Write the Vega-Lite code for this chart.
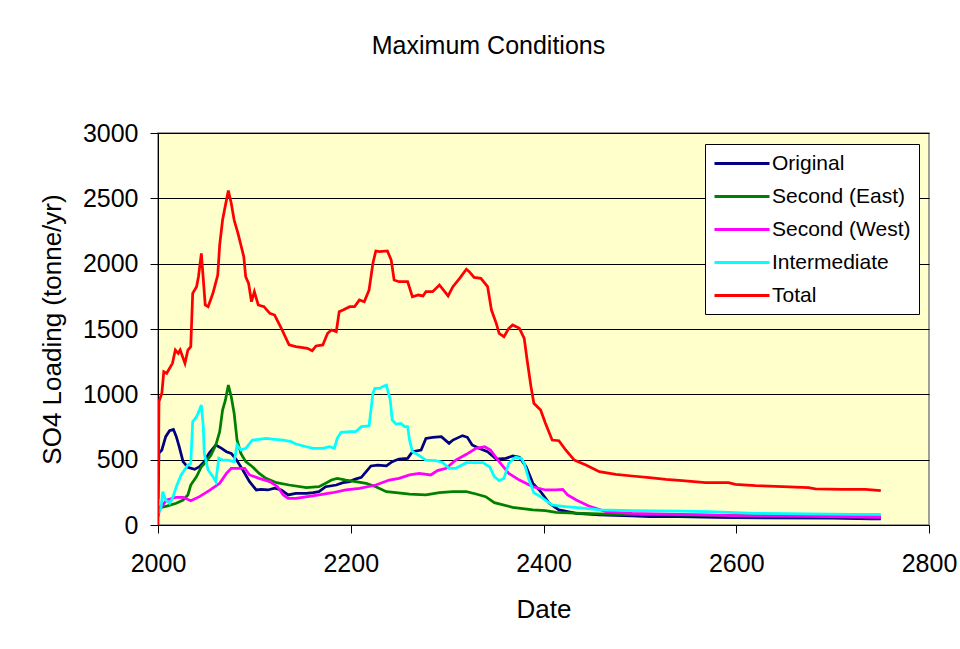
{
  "$schema": "https://vega.github.io/schema/vega-lite/v6.json",
  "autosize": {"type": "none"},
  "width": 771,
  "height": 392,
  "padding": {"left": 158, "top": 133, "right": 31, "bottom": 124},
  "background": "white",
  "title": {
    "text": "Maximum Conditions",
    "frame": "group",
    "anchor": "middle",
    "dx": -55,
    "offset": 62,
    "font": "Liberation Sans",
    "fontSize": 25,
    "fontWeight": "normal",
    "color": "black"
  },
  "data": {
    "values": [
      {"series": "Original", "year": 2000, "load": 200},
      {"series": "Original", "year": 2001, "load": 550},
      {"series": "Original", "year": 2004, "load": 574},
      {"series": "Original", "year": 2008, "load": 676},
      {"series": "Original", "year": 2012, "load": 722},
      {"series": "Original", "year": 2016, "load": 732},
      {"series": "Original", "year": 2019, "load": 676},
      {"series": "Original", "year": 2022, "load": 599},
      {"series": "Original", "year": 2026, "load": 485},
      {"series": "Original", "year": 2031, "load": 441},
      {"series": "Original", "year": 2038, "load": 426},
      {"series": "Original", "year": 2043, "load": 446},
      {"series": "Original", "year": 2048, "load": 485},
      {"series": "Original", "year": 2053, "load": 548},
      {"series": "Original", "year": 2060, "load": 612},
      {"series": "Original", "year": 2066, "load": 587},
      {"series": "Original", "year": 2071, "load": 561},
      {"series": "Original", "year": 2076, "load": 548},
      {"series": "Original", "year": 2081, "load": 503},
      {"series": "Original", "year": 2088, "load": 421},
      {"series": "Original", "year": 2095, "load": 332},
      {"series": "Original", "year": 2102, "load": 268},
      {"series": "Original", "year": 2107, "load": 273},
      {"series": "Original", "year": 2114, "load": 268},
      {"series": "Original", "year": 2121, "load": 281},
      {"series": "Original", "year": 2128, "load": 268},
      {"series": "Original", "year": 2135, "load": 230},
      {"series": "Original", "year": 2143, "load": 242},
      {"series": "Original", "year": 2154, "load": 242},
      {"series": "Original", "year": 2161, "load": 247},
      {"series": "Original", "year": 2167, "load": 255},
      {"series": "Original", "year": 2174, "load": 293},
      {"series": "Original", "year": 2185, "load": 306},
      {"series": "Original", "year": 2192, "load": 324},
      {"series": "Original", "year": 2199, "load": 332},
      {"series": "Original", "year": 2204, "load": 349},
      {"series": "Original", "year": 2211, "load": 365},
      {"series": "Original", "year": 2216, "load": 408},
      {"series": "Original", "year": 2221, "load": 452},
      {"series": "Original", "year": 2228, "load": 459},
      {"series": "Original", "year": 2237, "load": 452},
      {"series": "Original", "year": 2243, "load": 485},
      {"series": "Original", "year": 2250, "load": 505},
      {"series": "Original", "year": 2259, "load": 510},
      {"series": "Original", "year": 2264, "load": 561},
      {"series": "Original", "year": 2273, "load": 574},
      {"series": "Original", "year": 2278, "load": 663},
      {"series": "Original", "year": 2285, "load": 671},
      {"series": "Original", "year": 2294, "load": 676},
      {"series": "Original", "year": 2302, "load": 625},
      {"series": "Original", "year": 2306, "load": 650},
      {"series": "Original", "year": 2316, "load": 684},
      {"series": "Original", "year": 2321, "load": 671},
      {"series": "Original", "year": 2326, "load": 612},
      {"series": "Original", "year": 2333, "load": 587},
      {"series": "Original", "year": 2342, "load": 561},
      {"series": "Original", "year": 2351, "load": 505},
      {"series": "Original", "year": 2361, "load": 510},
      {"series": "Original", "year": 2368, "load": 528},
      {"series": "Original", "year": 2375, "load": 518},
      {"series": "Original", "year": 2382, "load": 446},
      {"series": "Original", "year": 2389, "load": 319},
      {"series": "Original", "year": 2397, "load": 255},
      {"series": "Original", "year": 2406, "load": 166},
      {"series": "Original", "year": 2416, "load": 115},
      {"series": "Original", "year": 2434, "load": 89},
      {"series": "Original", "year": 2458, "load": 77},
      {"series": "Original", "year": 2492, "load": 69},
      {"series": "Original", "year": 2510, "load": 64},
      {"series": "Original", "year": 2541, "load": 64},
      {"series": "Original", "year": 2580, "load": 59},
      {"series": "Original", "year": 2600, "load": 56},
      {"series": "Original", "year": 2700, "load": 52},
      {"series": "Original", "year": 2740, "load": 46},
      {"series": "Original", "year": 2750, "load": 46},

      {"series": "Second (East)", "year": 2000, "load": 128},
      {"series": "Second (East)", "year": 2009, "load": 145},
      {"series": "Second (East)", "year": 2019, "load": 166},
      {"series": "Second (East)", "year": 2026, "load": 191},
      {"series": "Second (East)", "year": 2031, "load": 230},
      {"series": "Second (East)", "year": 2034, "load": 306},
      {"series": "Second (East)", "year": 2040, "load": 370},
      {"series": "Second (East)", "year": 2045, "load": 446},
      {"series": "Second (East)", "year": 2050, "load": 485},
      {"series": "Second (East)", "year": 2055, "load": 536},
      {"series": "Second (East)", "year": 2060, "load": 612},
      {"series": "Second (East)", "year": 2064, "load": 714},
      {"series": "Second (East)", "year": 2067, "load": 880},
      {"series": "Second (East)", "year": 2070, "load": 957},
      {"series": "Second (East)", "year": 2073, "load": 1071},
      {"series": "Second (East)", "year": 2076, "load": 982},
      {"series": "Second (East)", "year": 2079, "load": 855},
      {"series": "Second (East)", "year": 2082, "load": 651},
      {"series": "Second (East)", "year": 2086, "load": 548},
      {"series": "Second (East)", "year": 2091, "load": 485},
      {"series": "Second (East)", "year": 2098, "load": 446},
      {"series": "Second (East)", "year": 2105, "load": 395},
      {"series": "Second (East)", "year": 2112, "load": 357},
      {"series": "Second (East)", "year": 2123, "load": 324},
      {"series": "Second (East)", "year": 2136, "load": 306},
      {"series": "Second (East)", "year": 2154, "load": 286},
      {"series": "Second (East)", "year": 2167, "load": 293},
      {"series": "Second (East)", "year": 2174, "load": 319},
      {"series": "Second (East)", "year": 2180, "load": 344},
      {"series": "Second (East)", "year": 2186, "load": 357},
      {"series": "Second (East)", "year": 2195, "load": 344},
      {"series": "Second (East)", "year": 2205, "load": 332},
      {"series": "Second (East)", "year": 2216, "load": 319},
      {"series": "Second (East)", "year": 2226, "load": 293},
      {"series": "Second (East)", "year": 2237, "load": 255},
      {"series": "Second (East)", "year": 2247, "load": 247},
      {"series": "Second (East)", "year": 2261, "load": 237},
      {"series": "Second (East)", "year": 2278, "load": 230},
      {"series": "Second (East)", "year": 2292, "load": 247},
      {"series": "Second (East)", "year": 2306, "load": 255},
      {"series": "Second (East)", "year": 2320, "load": 255},
      {"series": "Second (East)", "year": 2330, "load": 237},
      {"series": "Second (East)", "year": 2340, "load": 217},
      {"series": "Second (East)", "year": 2349, "load": 171},
      {"series": "Second (East)", "year": 2368, "load": 135},
      {"series": "Second (East)", "year": 2389, "load": 115},
      {"series": "Second (East)", "year": 2402, "load": 110},
      {"series": "Second (East)", "year": 2413, "load": 97},
      {"series": "Second (East)", "year": 2440, "load": 89},
      {"series": "Second (East)", "year": 2475, "load": 82},
      {"series": "Second (East)", "year": 2541, "load": 77},
      {"series": "Second (East)", "year": 2600, "load": 72},
      {"series": "Second (East)", "year": 2680, "load": 69},
      {"series": "Second (East)", "year": 2750, "load": 64},

      {"series": "Second (West)", "year": 2000, "load": 64},
      {"series": "Second (West)", "year": 2002, "load": 128},
      {"series": "Second (West)", "year": 2009, "load": 191},
      {"series": "Second (West)", "year": 2019, "load": 212},
      {"series": "Second (West)", "year": 2026, "load": 212},
      {"series": "Second (West)", "year": 2034, "load": 186},
      {"series": "Second (West)", "year": 2043, "load": 217},
      {"series": "Second (West)", "year": 2053, "load": 263},
      {"series": "Second (West)", "year": 2064, "load": 319},
      {"series": "Second (West)", "year": 2071, "load": 395},
      {"series": "Second (West)", "year": 2076, "load": 434},
      {"series": "Second (West)", "year": 2090, "load": 434},
      {"series": "Second (West)", "year": 2095, "load": 383},
      {"series": "Second (West)", "year": 2105, "load": 357},
      {"series": "Second (West)", "year": 2116, "load": 332},
      {"series": "Second (West)", "year": 2124, "load": 293},
      {"series": "Second (West)", "year": 2130, "load": 230},
      {"series": "Second (West)", "year": 2135, "load": 204},
      {"series": "Second (West)", "year": 2143, "load": 204},
      {"series": "Second (West)", "year": 2155, "load": 217},
      {"series": "Second (West)", "year": 2167, "load": 230},
      {"series": "Second (West)", "year": 2181, "load": 247},
      {"series": "Second (West)", "year": 2195, "load": 268},
      {"series": "Second (West)", "year": 2209, "load": 281},
      {"series": "Second (West)", "year": 2226, "load": 306},
      {"series": "Second (West)", "year": 2240, "load": 344},
      {"series": "Second (West)", "year": 2250, "load": 357},
      {"series": "Second (West)", "year": 2261, "load": 383},
      {"series": "Second (West)", "year": 2271, "load": 395},
      {"series": "Second (West)", "year": 2283, "load": 383},
      {"series": "Second (West)", "year": 2290, "load": 416},
      {"series": "Second (West)", "year": 2299, "load": 434},
      {"series": "Second (West)", "year": 2309, "load": 497},
      {"series": "Second (West)", "year": 2320, "load": 541},
      {"series": "Second (West)", "year": 2330, "load": 587},
      {"series": "Second (West)", "year": 2339, "load": 599},
      {"series": "Second (West)", "year": 2345, "load": 574},
      {"series": "Second (West)", "year": 2354, "load": 485},
      {"series": "Second (West)", "year": 2364, "load": 395},
      {"series": "Second (West)", "year": 2375, "load": 344},
      {"series": "Second (West)", "year": 2389, "load": 293},
      {"series": "Second (West)", "year": 2402, "load": 268},
      {"series": "Second (West)", "year": 2413, "load": 268},
      {"series": "Second (West)", "year": 2420, "load": 273},
      {"series": "Second (West)", "year": 2425, "load": 230},
      {"series": "Second (West)", "year": 2434, "load": 191},
      {"series": "Second (West)", "year": 2447, "load": 145},
      {"series": "Second (West)", "year": 2465, "load": 102},
      {"series": "Second (West)", "year": 2492, "load": 89},
      {"series": "Second (West)", "year": 2541, "load": 82},
      {"series": "Second (West)", "year": 2600, "load": 72},
      {"series": "Second (West)", "year": 2680, "load": 66},
      {"series": "Second (West)", "year": 2750, "load": 59},

      {"series": "Intermediate", "year": 2000, "load": 89},
      {"series": "Intermediate", "year": 2003, "load": 128},
      {"series": "Intermediate", "year": 2005, "load": 255},
      {"series": "Intermediate", "year": 2008, "load": 191},
      {"series": "Intermediate", "year": 2012, "load": 166},
      {"series": "Intermediate", "year": 2015, "load": 204},
      {"series": "Intermediate", "year": 2019, "load": 293},
      {"series": "Intermediate", "year": 2024, "load": 383},
      {"series": "Intermediate", "year": 2031, "load": 459},
      {"series": "Intermediate", "year": 2034, "load": 472},
      {"series": "Intermediate", "year": 2036, "load": 791},
      {"series": "Intermediate", "year": 2040, "load": 829},
      {"series": "Intermediate", "year": 2043, "load": 880},
      {"series": "Intermediate", "year": 2045, "load": 918},
      {"series": "Intermediate", "year": 2047, "load": 753},
      {"series": "Intermediate", "year": 2048, "load": 548},
      {"series": "Intermediate", "year": 2052, "load": 421},
      {"series": "Intermediate", "year": 2057, "load": 370},
      {"series": "Intermediate", "year": 2060, "load": 332},
      {"series": "Intermediate", "year": 2063, "load": 510},
      {"series": "Intermediate", "year": 2067, "load": 497},
      {"series": "Intermediate", "year": 2072, "load": 497},
      {"series": "Intermediate", "year": 2079, "load": 485},
      {"series": "Intermediate", "year": 2082, "load": 612},
      {"series": "Intermediate", "year": 2086, "load": 574},
      {"series": "Intermediate", "year": 2091, "load": 587},
      {"series": "Intermediate", "year": 2098, "load": 650},
      {"series": "Intermediate", "year": 2105, "load": 656},
      {"series": "Intermediate", "year": 2112, "load": 663},
      {"series": "Intermediate", "year": 2121, "load": 656},
      {"series": "Intermediate", "year": 2130, "load": 650},
      {"series": "Intermediate", "year": 2138, "load": 638},
      {"series": "Intermediate", "year": 2143, "load": 620},
      {"series": "Intermediate", "year": 2154, "load": 599},
      {"series": "Intermediate", "year": 2161, "load": 587},
      {"series": "Intermediate", "year": 2171, "load": 587},
      {"series": "Intermediate", "year": 2178, "load": 599},
      {"series": "Intermediate", "year": 2183, "load": 587},
      {"series": "Intermediate", "year": 2186, "load": 663},
      {"series": "Intermediate", "year": 2190, "load": 709},
      {"series": "Intermediate", "year": 2200, "load": 714},
      {"series": "Intermediate", "year": 2205, "load": 714},
      {"series": "Intermediate", "year": 2211, "load": 753},
      {"series": "Intermediate", "year": 2219, "load": 758},
      {"series": "Intermediate", "year": 2223, "load": 1008},
      {"series": "Intermediate", "year": 2225, "load": 1046},
      {"series": "Intermediate", "year": 2230, "load": 1046},
      {"series": "Intermediate", "year": 2233, "load": 1059},
      {"series": "Intermediate", "year": 2237, "load": 1071},
      {"series": "Intermediate", "year": 2241, "load": 957},
      {"series": "Intermediate", "year": 2243, "load": 804},
      {"series": "Intermediate", "year": 2247, "load": 773},
      {"series": "Intermediate", "year": 2252, "load": 778},
      {"series": "Intermediate", "year": 2256, "load": 753},
      {"series": "Intermediate", "year": 2259, "load": 753},
      {"series": "Intermediate", "year": 2261, "load": 650},
      {"series": "Intermediate", "year": 2264, "load": 561},
      {"series": "Intermediate", "year": 2270, "load": 536},
      {"series": "Intermediate", "year": 2278, "load": 497},
      {"series": "Intermediate", "year": 2288, "load": 492},
      {"series": "Intermediate", "year": 2295, "load": 480},
      {"series": "Intermediate", "year": 2302, "load": 434},
      {"series": "Intermediate", "year": 2309, "load": 434},
      {"series": "Intermediate", "year": 2320, "load": 477},
      {"series": "Intermediate", "year": 2337, "load": 477},
      {"series": "Intermediate", "year": 2344, "load": 446},
      {"series": "Intermediate", "year": 2349, "load": 370},
      {"series": "Intermediate", "year": 2354, "load": 339},
      {"series": "Intermediate", "year": 2359, "load": 357},
      {"series": "Intermediate", "year": 2364, "load": 472},
      {"series": "Intermediate", "year": 2371, "load": 518},
      {"series": "Intermediate", "year": 2377, "load": 510},
      {"series": "Intermediate", "year": 2380, "load": 472},
      {"series": "Intermediate", "year": 2385, "load": 344},
      {"series": "Intermediate", "year": 2390, "load": 247},
      {"series": "Intermediate", "year": 2397, "load": 217},
      {"series": "Intermediate", "year": 2402, "load": 191},
      {"series": "Intermediate", "year": 2409, "load": 153},
      {"series": "Intermediate", "year": 2423, "load": 140},
      {"series": "Intermediate", "year": 2444, "load": 128},
      {"series": "Intermediate", "year": 2458, "load": 115},
      {"series": "Intermediate", "year": 2492, "load": 110},
      {"series": "Intermediate", "year": 2541, "load": 107},
      {"series": "Intermediate", "year": 2570, "load": 102},
      {"series": "Intermediate", "year": 2620, "load": 89},
      {"series": "Intermediate", "year": 2720, "load": 82},
      {"series": "Intermediate", "year": 2750, "load": 82},

      {"series": "Total", "year": 2000, "load": 0},
      {"series": "Total", "year": 2001, "load": 944},
      {"series": "Total", "year": 2004, "load": 1008},
      {"series": "Total", "year": 2006, "load": 1173},
      {"series": "Total", "year": 2009, "load": 1161},
      {"series": "Total", "year": 2015, "load": 1237},
      {"series": "Total", "year": 2018, "load": 1339},
      {"series": "Total", "year": 2021, "load": 1314},
      {"series": "Total", "year": 2023, "load": 1339},
      {"series": "Total", "year": 2028, "load": 1237},
      {"series": "Total", "year": 2031, "load": 1339},
      {"series": "Total", "year": 2034, "load": 1365},
      {"series": "Total", "year": 2036, "load": 1773},
      {"series": "Total", "year": 2040, "load": 1824},
      {"series": "Total", "year": 2042, "load": 1900},
      {"series": "Total", "year": 2045, "load": 2079},
      {"series": "Total", "year": 2046, "load": 1977},
      {"series": "Total", "year": 2049, "load": 1684},
      {"series": "Total", "year": 2052, "load": 1671},
      {"series": "Total", "year": 2057, "load": 1773},
      {"series": "Total", "year": 2062, "load": 1913},
      {"series": "Total", "year": 2064, "load": 2143},
      {"series": "Total", "year": 2067, "load": 2334},
      {"series": "Total", "year": 2070, "load": 2449},
      {"series": "Total", "year": 2073, "load": 2559},
      {"series": "Total", "year": 2076, "load": 2462},
      {"series": "Total", "year": 2079, "load": 2334},
      {"series": "Total", "year": 2083, "load": 2232},
      {"series": "Total", "year": 2089, "load": 2054},
      {"series": "Total", "year": 2091, "load": 1900},
      {"series": "Total", "year": 2094, "load": 1849},
      {"series": "Total", "year": 2097, "load": 1709},
      {"series": "Total", "year": 2100, "load": 1786},
      {"series": "Total", "year": 2104, "load": 1684},
      {"series": "Total", "year": 2110, "load": 1671},
      {"series": "Total", "year": 2116, "load": 1620},
      {"series": "Total", "year": 2121, "load": 1607},
      {"series": "Total", "year": 2128, "load": 1505},
      {"series": "Total", "year": 2136, "load": 1378},
      {"series": "Total", "year": 2143, "load": 1365},
      {"series": "Total", "year": 2150, "load": 1357},
      {"series": "Total", "year": 2155, "load": 1352},
      {"series": "Total", "year": 2160, "load": 1334},
      {"series": "Total", "year": 2164, "load": 1370},
      {"series": "Total", "year": 2171, "load": 1378},
      {"series": "Total", "year": 2176, "load": 1467},
      {"series": "Total", "year": 2180, "load": 1492},
      {"series": "Total", "year": 2185, "load": 1480},
      {"series": "Total", "year": 2188, "load": 1633},
      {"series": "Total", "year": 2192, "load": 1645},
      {"series": "Total", "year": 2199, "load": 1671},
      {"series": "Total", "year": 2204, "load": 1671},
      {"series": "Total", "year": 2209, "load": 1722},
      {"series": "Total", "year": 2214, "load": 1709},
      {"series": "Total", "year": 2219, "load": 1798},
      {"series": "Total", "year": 2223, "load": 2003},
      {"series": "Total", "year": 2226, "load": 2097},
      {"series": "Total", "year": 2230, "load": 2092},
      {"series": "Total", "year": 2238, "load": 2097},
      {"series": "Total", "year": 2242, "load": 2028},
      {"series": "Total", "year": 2245, "load": 1875},
      {"series": "Total", "year": 2250, "load": 1862},
      {"series": "Total", "year": 2259, "load": 1862},
      {"series": "Total", "year": 2264, "load": 1747},
      {"series": "Total", "year": 2270, "load": 1760},
      {"series": "Total", "year": 2275, "load": 1753},
      {"series": "Total", "year": 2278, "load": 1786},
      {"series": "Total", "year": 2285, "load": 1786},
      {"series": "Total", "year": 2292, "load": 1837},
      {"series": "Total", "year": 2301, "load": 1753},
      {"series": "Total", "year": 2306, "load": 1824},
      {"series": "Total", "year": 2313, "load": 1888},
      {"series": "Total", "year": 2320, "load": 1957},
      {"series": "Total", "year": 2323, "load": 1939},
      {"series": "Total", "year": 2328, "load": 1895},
      {"series": "Total", "year": 2335, "load": 1888},
      {"series": "Total", "year": 2342, "load": 1824},
      {"series": "Total", "year": 2346, "load": 1645},
      {"series": "Total", "year": 2351, "load": 1543},
      {"series": "Total", "year": 2354, "load": 1467},
      {"series": "Total", "year": 2359, "load": 1441},
      {"series": "Total", "year": 2364, "load": 1505},
      {"series": "Total", "year": 2368, "load": 1531},
      {"series": "Total", "year": 2375, "load": 1505},
      {"series": "Total", "year": 2380, "load": 1429},
      {"series": "Total", "year": 2383, "load": 1263},
      {"series": "Total", "year": 2387, "load": 1059},
      {"series": "Total", "year": 2390, "load": 931},
      {"series": "Total", "year": 2397, "load": 880},
      {"series": "Total", "year": 2402, "load": 778},
      {"series": "Total", "year": 2409, "load": 650},
      {"series": "Total", "year": 2416, "load": 645},
      {"series": "Total", "year": 2423, "load": 574},
      {"series": "Total", "year": 2432, "load": 497},
      {"series": "Total", "year": 2444, "load": 459},
      {"series": "Total", "year": 2458, "load": 408},
      {"series": "Total", "year": 2475, "load": 388},
      {"series": "Total", "year": 2492, "load": 375},
      {"series": "Total", "year": 2510, "load": 362},
      {"series": "Total", "year": 2527, "load": 349},
      {"series": "Total", "year": 2544, "load": 339},
      {"series": "Total", "year": 2568, "load": 324},
      {"series": "Total", "year": 2592, "load": 324},
      {"series": "Total", "year": 2599, "load": 311},
      {"series": "Total", "year": 2620, "load": 301},
      {"series": "Total", "year": 2648, "load": 293},
      {"series": "Total", "year": 2675, "load": 286},
      {"series": "Total", "year": 2682, "load": 276},
      {"series": "Total", "year": 2710, "load": 273},
      {"series": "Total", "year": 2734, "load": 273},
      {"series": "Total", "year": 2750, "load": 263}
    ]
  },
  "mark": {"type": "line", "strokeWidth": 2.75, "clip": true},
  "encoding": {
    "x": {
      "field": "year",
      "type": "quantitative",
      "title": "Date",
      "scale": {"domain": [2000, 2800], "nice": false, "zero": false},
      "axis": {
        "values": [2000, 2200, 2400, 2600, 2800],
        "format": "d",
        "grid": false,
        "labelPadding": 18,
        "titlePadding": 20
      }
    },
    "y": {
      "field": "load",
      "type": "quantitative",
      "title": "SO4 Loading (tonne/yr)",
      "scale": {"domain": [0, 3000], "nice": false},
      "axis": {
        "values": [0, 500, 1000, 1500, 2000, 2500, 3000],
        "format": "d",
        "grid": true,
        "labelPadding": 12,
        "titlePadding": 17
      }
    },
    "color": {
      "field": "series",
      "type": "nominal",
      "sort": null,
      "scale": {
        "domain": ["Original", "Second (East)", "Second (West)", "Intermediate", "Total"],
        "range": ["#000080", "#008000", "#FF00FF", "#00FFFF", "#FF0000"]
      },
      "legend": {
        "orient": "none",
        "legendX": 547,
        "legendY": 11,
        "title": null,
        "direction": "vertical",
        "symbolType": "M-1,0H4.5",
        "symbolSize": 400,
        "symbolStrokeWidth": 3,
        "labelFont": "Liberation Sans",
        "labelFontSize": 21,
        "labelColor": "black",
        "labelOffset": 36,
        "labelLimit": 300,
        "strokeColor": "black",
        "fillColor": "white",
        "padding": 8,
        "rowPadding": 11
      }
    }
  },
  "config": {
    "view": {"fill": "#FFFFCC", "stroke": "#808080", "strokeWidth": 1.5},
    "axis": {
      "domainColor": "black",
      "domainWidth": 1,
      "tickColor": "black",
      "tickSize": 8,
      "tickWidth": 1,
      "gridColor": "black",
      "gridWidth": 1,
      "gridOpacity": 1,
      "labelFont": "Liberation Sans",
      "labelFontSize": 25,
      "labelColor": "black",
      "titleFont": "Liberation Sans",
      "titleFontSize": 26,
      "titleFontWeight": "normal",
      "titleColor": "black",
      "labelOverlap": false,
      "labelFlush": false
    }
  }
}
